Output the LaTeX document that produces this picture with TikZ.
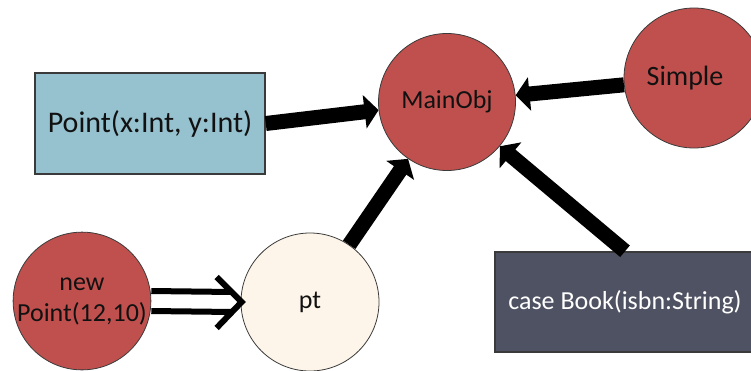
\documentclass[tikz,border=0pt]{standalone}
\usepackage{fontspec}
\setmainfont{Carlito}
\usetikzlibrary{arrows.meta}
\definecolor{objred}{HTML}{C0504D}
\definecolor{ptblue}{HTML}{96C1CF}
\definecolor{cream}{HTML}{FDF5E9}
\definecolor{slate}{HTML}{4F5262}
\definecolor{edge}{HTML}{3A3A3A}
\definecolor{ink}{HTML}{111111}
\tikzset{
  every node/.style={font=\fontsize{26}{31}\selectfont, text=ink, align=center, inner sep=0pt},
  redobj/.style={circle, draw=edge, line width=0.8pt, fill=objred, minimum size=137pt},
  ptobj/.style={circle, draw=edge, line width=0.8pt, fill=cream, minimum size=138pt},
  classbox/.style={rectangle, draw=edge, line width=1.5pt, fill=ptblue, minimum width=230pt, minimum height=101pt, font=\fontsize{30}{34}\selectfont},
  casebox/.style={rectangle, draw=edge, line width=1.5pt, fill=slate, text=white, minimum width=260pt, minimum height=100pt},
  fat/.style={line width=15pt, -{Triangle[length=14pt,width=33pt]}},
  dbl/.style={line width=6pt},
}
\begin{document}
\begin{tikzpicture}[x=1pt,y=-1pt]
\useasboundingbox (0,0) rectangle (751,370);
\node[classbox] (point) at (150,123.5) {Point(x:Int, y:Int)};
\node[redobj] (main) at (447,102) {MainObj};
\node[redobj, minimum size=140pt, font=\fontsize{28}{32}\selectfont] (simple) at (694,78) {Simple\hspace{18pt}};
\node[casebox] (book) at (625,302) {\textcolor{white}{case Book(isbn:String)}};
\node[redobj] (newpt) at (82,301) {new\\Point(12,10)};
\node[ptobj] (pt) at (310,302) {pt};

\draw[fat] (point.east) -- (main);
\draw[fat] (simple) -- (main);
\draw[fat] (pt) -- (main);
\draw[fat] (book.north) -- (main);

\draw[dbl] ([yshift=10pt]newpt.east) -- ([shift={(-8pt,10pt)}]pt.west);
\draw[dbl] ([yshift=-10pt]newpt.east) -- ([shift={(-8pt,-10pt)}]pt.west);
\draw[dbl, miter limit=10] ([shift={(-24pt,25pt)}]pt.west) -- ([xshift=1pt]pt.west) -- ([shift={(-24pt,-26pt)}]pt.west);
\end{tikzpicture}
\end{document}
